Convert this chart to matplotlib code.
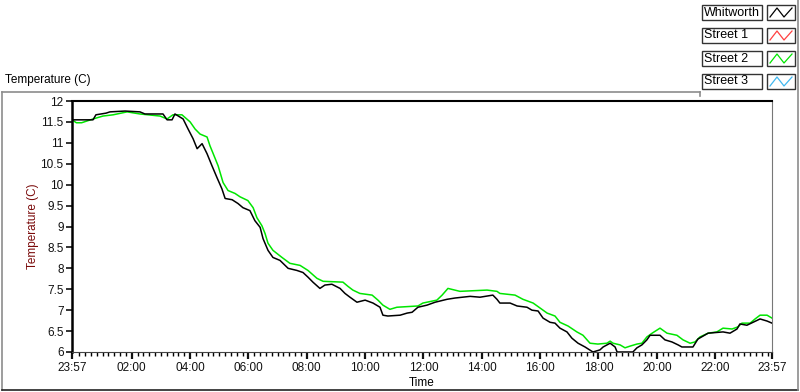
import matplotlib
matplotlib.use("Agg")
import matplotlib.pyplot as plt
from matplotlib.patches import Rectangle
from matplotlib.lines import Line2D


# ----------------------
# data (hours since 23:57, temperature in C)
# ----------------------
whitworth_hours = [0.00, 0.72, 0.82, 1.17, 1.30, 1.82, 2.33, 2.50, 3.12, 3.26, 3.43, 3.53,
                   3.81, 3.98, 4.15, 4.29, 4.46, 4.63, 4.80, 4.97, 5.14, 5.25, 5.49, 5.69,
                   5.86, 6.10, 6.27, 6.45, 6.55, 6.72, 6.89, 7.13, 7.41, 7.71, 7.92, 8.09,
                   8.26, 8.50, 8.67, 8.91, 9.19, 9.36, 9.53, 9.77, 10.05, 10.32, 10.56, 10.66,
                   10.83, 11.25, 11.49, 11.66, 11.86, 12.17, 12.45, 12.86, 13.13, 13.65, 13.99,
                   14.43, 14.57, 14.67, 15.02, 15.26, 15.60, 15.77, 15.98, 16.15, 16.39, 16.56,
                   16.73, 16.97, 17.14, 17.35, 17.59, 17.86, 18.10, 18.21, 18.45, 18.62, 18.69,
                   19.23, 19.37, 19.54, 19.71, 19.82, 20.16, 20.33, 20.57, 20.78, 20.91, 21.29,
                   21.46, 21.81, 22.32, 22.56, 22.80, 22.90, 23.14, 23.35, 23.59, 23.83, 24.00]
whitworth_temp = [11.55, 11.55, 11.67, 11.71, 11.74, 11.76, 11.74, 11.69, 11.69, 11.55, 11.55, 11.69,
                  11.57, 11.33, 11.10, 10.86, 10.98, 10.74, 10.45, 10.17, 9.90, 9.67, 9.64, 9.55,
                  9.45, 9.38, 9.14, 8.98, 8.71, 8.43, 8.26, 8.19, 8.00, 7.95, 7.90, 7.79,
                  7.67, 7.52, 7.60, 7.62, 7.52, 7.40, 7.31, 7.19, 7.24, 7.17, 7.07, 6.88,
                  6.86, 6.88, 6.93, 6.95, 7.07, 7.12, 7.19, 7.26, 7.29, 7.33, 7.31,
                  7.36, 7.26, 7.17, 7.17, 7.10, 7.07, 7.00, 6.98, 6.81, 6.71, 6.69,
                  6.57, 6.48, 6.33, 6.21, 6.12, 6.00, 6.05, 6.12, 6.21, 6.12, 6.00,
                  6.00, 6.10, 6.17, 6.29, 6.40, 6.40, 6.29, 6.24, 6.17, 6.12, 6.12,
                  6.31, 6.45, 6.48, 6.45, 6.55, 6.67, 6.64, 6.71, 6.79, 6.74, 6.69]

street2_hours = [0.00, 0.15, 0.33, 0.72, 1.06, 1.41, 1.89, 2.33, 3.02, 3.26, 3.46, 3.77,
                 4.05, 4.22, 4.39, 4.63, 4.73, 4.83, 5.01, 5.18, 5.35, 5.59, 5.76, 6.03,
                 6.21, 6.34, 6.51, 6.62, 6.72, 6.89, 7.20, 7.47, 7.82, 8.09, 8.40, 8.61,
                 9.29, 9.46, 9.63, 9.87, 10.29, 10.49, 10.66, 10.90, 11.14, 11.86, 12.03,
                 12.51, 12.69, 12.89, 13.30, 14.23, 14.57, 14.67, 15.19, 15.46, 15.81, 16.05,
                 16.29, 16.56, 16.73, 17.01, 17.31, 17.52, 17.76, 18.03, 18.34, 18.45, 18.55,
                 18.79, 18.96, 19.13, 19.37, 19.54, 19.71, 19.89, 20.16, 20.40, 20.74, 20.95,
                 21.19, 21.36, 21.53, 21.81, 22.11, 22.32, 22.63, 22.83, 22.97, 23.25, 23.42,
                 23.59, 23.83, 24.00]
street2_temp = [11.55, 11.48, 11.48, 11.57, 11.64, 11.67, 11.74, 11.69, 11.64, 11.57, 11.67, 11.67,
                11.50, 11.33, 11.21, 11.14, 10.93, 10.76, 10.45, 10.05, 9.86, 9.79, 9.71, 9.62,
                9.45, 9.21, 9.02, 8.83, 8.60, 8.43, 8.26, 8.12, 8.07, 7.95, 7.76, 7.69,
                7.67, 7.57, 7.48, 7.40, 7.36, 7.24, 7.12, 7.02, 7.07, 7.10, 7.17,
                7.24, 7.36, 7.52, 7.45, 7.48, 7.45, 7.40, 7.36, 7.26, 7.17, 7.05,
                6.93, 6.86, 6.71, 6.62, 6.48, 6.40, 6.21, 6.19, 6.21, 6.26, 6.21,
                6.17, 6.10, 6.14, 6.19, 6.21, 6.36, 6.45, 6.57, 6.45, 6.40, 6.29,
                6.21, 6.24, 6.36, 6.45, 6.48, 6.57, 6.55, 6.60, 6.69, 6.69, 6.79,
                6.88, 6.88, 6.81]

series_names = ["Whitworth", "Street 1", "Street 2", "Street 3"]
series_colors = ["#000000", "#ff4040", "#00e600", "#40b8f0"]

tick_hours = [0, 2.05, 4.05, 6.05, 8.05, 10.05, 12.05, 14.05, 16.05, 18.05, 20.05, 22.05, 24]
tick_labels = ["23:57", "02:00", "04:00", "06:00", "08:00", "10:00", "12:00",
               "14:00", "16:00", "18:00", "20:00", "22:00", "23:57"]
y_ticks = [6, 6.5, 7, 7.5, 8, 8.5, 9, 9.5, 10, 10.5, 11, 11.5, 12]


# ----------------------
# figure
# ----------------------
W, H = 800, 392
plt.rcParams["font.family"] = ["Liberation Sans", "DejaVu Sans"]
fig = plt.figure(figsize=(W / 100, H / 100), dpi=100)


def fx(x):
    return x / W


def fy(y):
    return 1 - y / H


ax = fig.add_axes([fx(72), fy(352), fx(772) - fx(72), fy(101) - fy(352)])

ax.plot(whitworth_hours, whitworth_temp, color=series_colors[0], lw=1.1, zorder=3)
ax.plot(street2_hours, street2_temp, color=series_colors[2], lw=1.1, zorder=2)

ax.set_xlim(0, 24)
ax.set_ylim(6, 12)
ax.set_yticks(y_ticks)
ax.set_yticklabels([f"{v:g}" for v in y_ticks])
ax.set_xticks(tick_hours)
ax.set_xticklabels(tick_labels)
minor = [0.05 + 0.2 * k for k in range(121)]
minor = [m for m in minor if m <= 24 and all(abs(m - t) > 0.06 for t in tick_hours)]
ax.set_xticks(minor, minor=True)

ax.tick_params(axis="both", labelsize=8.5, colors="#111111", direction="out")
ax.tick_params(axis="y", length=4, width=1.2, pad=2)
ax.tick_params(axis="x", which="major", length=5, width=1.6, pad=2)
ax.tick_params(axis="x", which="minor", length=3, width=1)

ax.spines["left"].set_linewidth(1.8)
ax.spines["top"].set_linewidth(1.5)
ax.spines["bottom"].set_color("#444444")
ax.spines["right"].set_color("#777777")

ax.set_xlabel("Time", fontsize=8.5, labelpad=2)
ax.set_ylabel("Temperature (C)", fontsize=8.5, color="#7a0a0a", labelpad=1)

# panel title and frame
fig.text(fx(5), fy(80), "Temperature (C)", fontsize=8.5, va="center", ha="left")
frame_color = "#8c8c8c"
fig.add_artist(Line2D([fx(2), fx(700)], [fy(92), fy(92)], color=frame_color, lw=1.2))
fig.add_artist(Line2D([fx(2), fx(2)], [fy(92), fy(390)], color=frame_color, lw=1.2))
fig.add_artist(Line2D([fx(2), fx(798)], [fy(390), fy(390)], color="#222222", lw=1.2))
fig.add_artist(Line2D([fx(798), fx(798)], [fy(0), fy(390)], color=frame_color, lw=1.2))
fig.add_artist(Line2D([fx(700), fx(700)], [fy(92), fy(96)], color=frame_color, lw=1.2))

# ----------------------
# legend (label box + icon box per series)
# ----------------------
for i, (name, color) in enumerate(zip(series_names, series_colors)):
    top = 5 + i * 23
    fig.add_artist(Rectangle((fx(702), fy(top + 15)), fx(60), fy(0) - fy(15),
                             transform=fig.transFigure, fill=False, ec="#333333", lw=1))
    fig.text(fx(704), fy(top + 7.5), name, fontsize=9, va="center", ha="left")
    fig.add_artist(Rectangle((fx(767), fy(top + 15)), fx(28), fy(0) - fy(15),
                             transform=fig.transFigure, fill=False, ec="#333333", lw=1))
    xs = [fx(770), fx(777), fx(784), fx(792)]
    ys = [fy(top + 12), fy(top + 3), fy(top + 12), fy(top + 3)]
    fig.add_artist(Line2D(xs, ys, color=color, lw=0.9))

fig.savefig("out.png", dpi=100)
